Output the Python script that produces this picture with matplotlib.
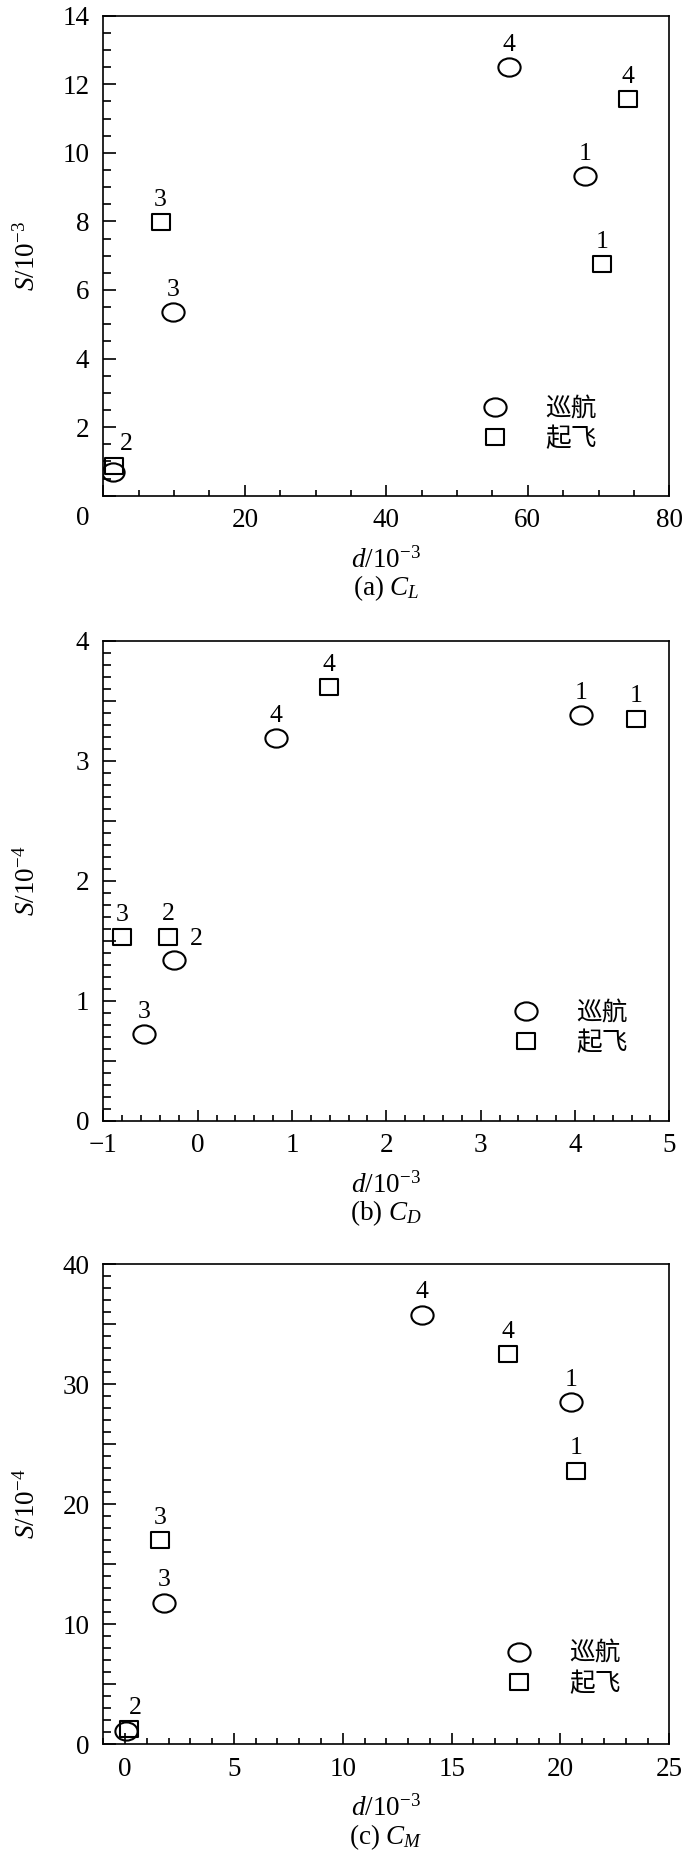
import numpy as np
import matplotlib
matplotlib.use('Agg')
import matplotlib.pyplot as plt
from matplotlib.path import Path
from matplotlib.transforms import Affine2D
from matplotlib.ticker import MultipleLocator, FuncFormatter

plt.rcParams['font.family'] = ['Liberation Serif', 'DejaVu Serif']
plt.rcParams['mathtext.fontset'] = 'custom'
plt.rcParams['mathtext.rm'] = 'Liberation Serif'
plt.rcParams['mathtext.it'] = 'Liberation Serif:italic'

# 数据 (点 1,2,3,4)
cl_cruise_d = [68.1, 1.37, 9.9, 57.3]
cl_cruise_s = [9.31, 0.70, 5.35, 12.51]
cl_takeoff_d = [70.5, 1.55, 8.1, 74.1]
cl_takeoff_s = [6.76, 0.87, 7.97, 11.56]

cd_cruise_d = [4.06, -0.25, -0.57, 0.83]
cd_cruise_s = [3.38, 1.34, 0.72, 3.19]
cd_takeoff_d = [4.65, -0.31, -0.80, 1.39]
cd_takeoff_s = [3.35, 1.53, 1.53, 3.61]

cm_cruise_d = [20.5, 0.06, 1.8, 13.65]
cm_cruise_s = [28.5, 1.1, 11.8, 35.8]
cm_takeoff_d = [20.7, 0.2, 1.6, 17.6]
cm_takeoff_s = [22.8, 1.3, 17.0, 32.5]

# 点编号 (空字符串 = 不标)
cl_cruise_lbl = ['1', '', '3', '4']
cl_takeoff_lbl = ['1', '2', '3', '4']
cd_cruise_lbl = ['1', '2', '3', '4']
cd_takeoff_lbl = ['1', '2', '3', '4']
cm_cruise_lbl = ['1', '', '3', '4']
cm_takeoff_lbl = ['1', '2', '3', '4']

legend_labels = ['巡航', '起飞']

# 椭圆 / 矩形 标记
ellipse = Path.unit_circle().transformed(Affine2D().scale(1.22, 1.0))
rect = Path([(-1.2, -1), (1.2, -1), (1.2, 1), (-1.2, 1), (-1.2, -1)],
            [Path.MOVETO, Path.LINETO, Path.LINETO, Path.LINETO, Path.CLOSEPOLY])

FS = 19.5


def draw_panel(ax, cd, cs, td, ts, clbl, tlbl, offs, xlim, ylim, xmaj, xmin,
               ymaj, ymin, ylab_every, ylabel, caption, leg_xy):
    l1, = ax.plot(cd, cs, ls='none', marker=ellipse, ms=16, mfc='none',
                  mec='black', mew=1.5)
    l2, = ax.plot(td, ts, ls='none', marker=rect, ms=13, mfc='none',
                  mec='black', mew=1.5)
    for key, xs, ys, lbls in (('c', cd, cs, clbl), ('t', td, ts, tlbl)):
        for i, (x, y, s) in enumerate(zip(xs, ys, lbls)):
            if s:
                ax.annotate(s, (x, y), xytext=offs.get((key, i), (0, 16)),
                            textcoords='offset points', ha='center',
                            va='center', fontsize=18.5)
    ax.set_xlim(*xlim)
    ax.set_ylim(*ylim)
    ax.xaxis.set_major_locator(MultipleLocator(xmaj))
    ax.xaxis.set_minor_locator(MultipleLocator(xmin))
    ax.yaxis.set_major_locator(MultipleLocator(ymaj))
    ax.yaxis.set_minor_locator(MultipleLocator(ymin))
    ax.yaxis.set_major_formatter(FuncFormatter(
        lambda v, p: '%g' % round(v, 6) if abs(v / ylab_every - round(v / ylab_every)) < 1e-6 else ''))
    ax.xaxis.set_major_formatter(FuncFormatter(lambda v, p: ('%g' % round(v, 6)).replace('-', '\u2212')))
    ax.tick_params(which='both', direction='in', top=False, right=False,
                   width=1.2, labelsize=FS)
    ax.tick_params(axis='y', which='major', length=9.4, pad=10)
    ax.tick_params(axis='y', which='minor', length=5.8)
    ax.tick_params(axis='x', which='major', length=8, pad=9)
    ax.tick_params(axis='x', which='minor', length=4.3)
    for sp in ax.spines.values():
        sp.set_linewidth(1.2)
    ax.set_xlabel(r'$d$/10$^{-3}$', fontsize=FS)
    ax.xaxis.label.set_va('baseline')
    ax.xaxis.set_label_coords(0.5, -0.149)
    ax.set_ylabel(ylabel, fontsize=FS)
    ax.yaxis.label.set_va('baseline')
    ax.yaxis.set_label_coords(-0.122, 0.5)
    ax.text(0.5, -0.207, caption, transform=ax.transAxes, ha='center',
            va='baseline', fontsize=FS)
    ax.legend([l1, l2], legend_labels, loc='center left', bbox_to_anchor=leg_xy,
              frameon=False, borderpad=0, borderaxespad=0, handlelength=1.4,
              handletextpad=1.25, labelspacing=0.15, numpoints=1,
              prop={'family': ['Noto Sans CJK SC'], 'size': 18.5})


fig = plt.figure(figsize=(7, 18.63), dpi=100)
ax1 = fig.add_axes([0.1476, 0.7339, 0.8086, 0.2577])
ax2 = fig.add_axes([0.1476, 0.3984, 0.8086, 0.2577])
ax3 = fig.add_axes([0.1476, 0.0637, 0.8086, 0.2577])

draw_panel(ax1, cl_cruise_d, cl_cruise_s, cl_takeoff_d, cl_takeoff_s,
           cl_cruise_lbl, cl_takeoff_lbl, {('t', 1): (9, 16)},
           (0, 80), (0, 14), 20, 5, 2, 0.5, 2, r'$S$/10$^{-3}$',
           r'(a) $C_L$', (0.660, 0.149))
# (a) 原点 "0" 单独放在左下角
ax1.yaxis.set_major_formatter(FuncFormatter(lambda v, p: '' if v == 0 else '%g' % v))
ax1.xaxis.set_major_formatter(FuncFormatter(lambda v, p: '' if v == 0 else '%g' % v))
ax1.annotate('0', xy=(0, 0), xycoords='axes fraction', xytext=(-14.5, -16.5),
             textcoords='offset points', ha='center', va='center', fontsize=FS)

draw_panel(ax2, cd_cruise_d, cd_cruise_s, cd_takeoff_d, cd_takeoff_s,
           cd_cruise_lbl, cd_takeoff_lbl, {('c', 1): (16, 15), ('t', 1): (0, 17)},
           (-1, 5), (0, 4), 1, 0.2, 0.5, 0.1, 1, r'$S$/10$^{-4}$',
           r'(b) $C_D$', (0.715, 0.193))
draw_panel(ax3, cm_cruise_d, cm_cruise_s, cm_takeoff_d, cm_takeoff_s,
           cm_cruise_lbl, cm_takeoff_lbl, {('t', 1): (4, 15)},
           (-1, 25), (0, 40), 5, 1, 5, 1, 10, r'$S$/10$^{-4}$',
           r'(c) $C_M$', (0.703, 0.157))

fig.savefig('out.png', dpi=100)
